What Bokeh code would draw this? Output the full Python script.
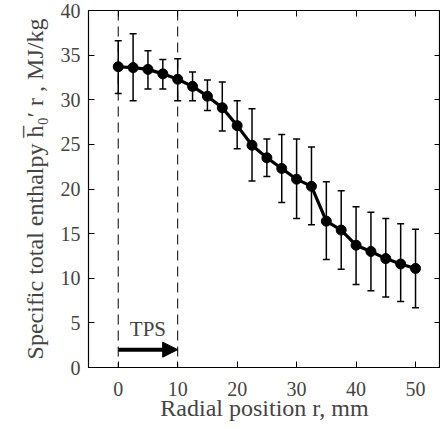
from bokeh.plotting import figure
from bokeh.models import Range1d, LinearAxis, Span, Arrow, NormalHead, Whisker, TeeHead, ColumnDataSource, FixedTicker, Label, CustomJSTickFormatter
from bokeh.embed import file_html
from bokeh.resources import INLINE

r_mm = [0, 2.5, 5, 7.5, 10, 12.5, 15, 17.5, 20, 22.5, 25, 27.5, 30, 32.5, 35, 37.5, 40, 42.5, 45, 47.5, 50]
h_mean = [33.7, 33.6, 33.4, 32.9, 32.3, 31.5, 30.4, 29.1, 27.1, 24.9, 23.5, 22.3, 21.1, 20.3, 16.4, 15.4, 13.7, 13.0, 12.2, 11.6, 11.1]
h_upper = [36.6, 37.4, 35.5, 34.5, 34.6, 33.1, 32.2, 32.0, 29.9, 29.0, 25.6, 26.1, 25.6, 24.7, 20.8, 19.8, 18.0, 17.4, 16.7, 16.1, 15.5]
h_lower = [30.7, 29.9, 31.2, 31.2, 29.9, 29.9, 28.8, 26.5, 24.5, 20.9, 21.4, 18.5, 16.7, 16.0, 12.1, 11.0, 9.3, 8.6, 7.9, 7.4, 6.7]
x_ticks = [0, 10, 20, 30, 40, 50]
y_ticks = [0, 5, 10, 15, 20, 25, 30, 35, 40]
tps_edges = [0, 10]
tps_arrow_y = 2.0
tps_label = "TPS"

FONT = "Liberation Serif"

p = figure(width=440, height=427, output_backend="svg", toolbar_location=None,
           x_range=Range1d(-5, 54.2), y_range=Range1d(0, 40),
           min_border_left=88, min_border_top=10, min_border_right=0, min_border_bottom=60)
p.grid.visible = False
p.outline_line_color = "black"
p.outline_line_width = 1.2
p.background_fill_color = "white"
p.border_fill_color = "white"

p.xaxis.axis_label = "Radial position r, mm"
p.yaxis.axis_label = "Specific total enthalpy h\u0305\u2080\u2032 r , MJ/kg"
for ax in [p.xaxis[0], p.yaxis[0]]:
    ax.major_label_text_font = FONT
    ax.major_label_text_font_size = "20px"
    ax.axis_label_text_font = FONT
    ax.axis_label_text_font_size = "24px"
    ax.axis_label_text_font_style = "normal"
    ax.major_tick_in = 6
    ax.major_tick_out = 0
    ax.minor_tick_line_color = None
    ax.axis_line_color = "black"
    ax.major_tick_line_color = "black"
p.xaxis.ticker = FixedTicker(ticks=x_ticks)
p.yaxis.ticker = FixedTicker(ticks=y_ticks)
p.xaxis.major_label_standoff = 14
p.yaxis.major_label_standoff = 8
p.xaxis.axis_label_standoff = -4
p.yaxis.axis_label_standoff = 10

blank = CustomJSTickFormatter(code="return ''")
top = LinearAxis(ticker=FixedTicker(ticks=x_ticks), major_tick_in=6, major_tick_out=0,
                 minor_tick_line_color=None, formatter=blank, major_label_standoff=0)
right = LinearAxis(ticker=FixedTicker(ticks=y_ticks), major_tick_in=6, major_tick_out=0,
                   minor_tick_line_color=None, formatter=blank, major_label_standoff=0)
p.add_layout(top, "above")
p.add_layout(right, "right")

for e in tps_edges:
    p.add_layout(Span(location=e, dimension="height", line_color="black",
                      line_dash="10 6", line_width=1))

src = ColumnDataSource(dict(x=r_mm, y=h_mean, up=h_upper, lo=h_lower))
p.add_layout(Whisker(source=src, base="x", upper="up", lower="lo", line_color="black",
                     line_width=1.5,
                     upper_head=TeeHead(size=7, line_color="black", line_width=1.5),
                     lower_head=TeeHead(size=7, line_color="black", line_width=1.5)))
p.line("x", "y", source=src, line_color="black", line_width=3.2)
p.scatter("x", "y", source=src, size=10, fill_color="black", line_color="black")

p.add_layout(Arrow(end=NormalHead(size=15, fill_color="black", line_color="black"),
                   x_start=tps_edges[0], y_start=tps_arrow_y,
                   x_end=tps_edges[1], y_end=tps_arrow_y,
                   line_color="black", line_width=4))
p.add_layout(Label(x=(tps_edges[0] + tps_edges[1]) / 2, y=3.0, text=tps_label,
                   text_font=FONT, text_font_size="21px", text_align="center",
                   text_baseline="bottom"))

open("out.html", "w").write(file_html(p, INLINE))
